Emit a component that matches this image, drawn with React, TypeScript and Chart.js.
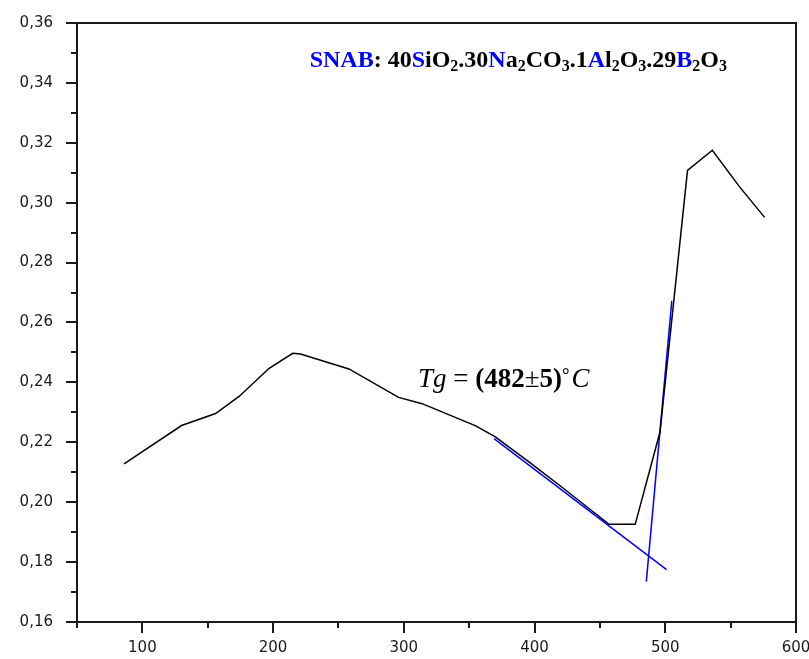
import React, { useEffect, useRef } from 'react';
import { Chart, registerables } from 'chart.js';

Chart.register(...registerables);

// Measured curve: temperature (°C) vs. value
const temperature = [86, 130, 156, 174, 197, 215, 221, 258, 296, 314, 355, 370, 396, 421, 457, 477, 496, 517, 536, 557, 576];
const measured = [0.2128, 0.2256, 0.2296, 0.2353, 0.2447, 0.2497, 0.2495, 0.2445, 0.235, 0.2329, 0.2255, 0.2218, 0.2134, 0.205, 0.1926, 0.1926, 0.2235, 0.3108, 0.3175, 0.3052, 0.2951];

// Tangent lines used to find Tg
const tangentLowX = [369, 501];
const tangentLowY = [0.2212, 0.1775];
const tangentHighX = [485.5, 505];
const tangentHighY = [0.1735, 0.2672];

// Axes
const xMin = 50;
const xMax = 600;
const xMajorTicks = [100, 200, 300, 400, 500, 600];
const xMinorTicks = [50, 150, 250, 350, 450, 550];
const yMin = 0.16;
const yMax = 0.36;
const yMajorTicks = [0.16, 0.18, 0.2, 0.22, 0.24, 0.26, 0.28, 0.3, 0.32, 0.34, 0.36];
const yMinorTicks = [0.17, 0.19, 0.21, 0.23, 0.25, 0.27, 0.29, 0.31, 0.33, 0.35];

const BLUE = '#0000ff';
const BLACK = '#000000';

type Seg = { t: string; c?: string; sub?: boolean; style?: string };

const titleSegs: Seg[] = [
  { t: 'SNAB', c: BLUE },
  { t: ': 40' },
  { t: 'S', c: BLUE },
  { t: 'iO' },
  { t: '2', sub: true },
  { t: '.30' },
  { t: 'N', c: BLUE },
  { t: 'a' },
  { t: '2', sub: true },
  { t: 'CO' },
  { t: '3', sub: true },
  { t: '.1' },
  { t: 'A', c: BLUE },
  { t: 'l' },
  { t: '2', sub: true },
  { t: 'O' },
  { t: '3', sub: true },
  { t: '.29' },
  { t: 'B', c: BLUE },
  { t: '2', sub: true },
  { t: 'O' },
  { t: '3', sub: true },
];

const tgSegs: Seg[] = [
  { t: 'Tg', style: 'italic' },
  { t: ' = ', style: 'normal' },
  { t: '(482', style: 'bold' },
  { t: '±', style: 'normal' },
  { t: '5)°', style: 'bold' },
  { t: 'C', style: 'italic' },
];

const serif = '"Liberation Serif", "Times New Roman", serif';
const sans = '"DejaVu Sans", Verdana, sans-serif';

const framePlugin = {
  id: 'frameAndText',
  afterDraw(chart: any) {
    const { ctx, chartArea: a, scales } = chart;
    const x = scales.x;
    const y = scales.y;
    ctx.save();
    ctx.strokeStyle = '#1a1a1a';
    ctx.lineWidth = 2;
    ctx.strokeRect(a.left, a.top, a.right - a.left, a.bottom - a.top);
    ctx.beginPath();
    xMajorTicks.forEach((v) => {
      const px = Math.round(x.getPixelForValue(v));
      ctx.moveTo(px, a.bottom);
      ctx.lineTo(px, a.bottom + 11);
    });
    xMinorTicks.forEach((v) => {
      const px = Math.round(x.getPixelForValue(v));
      ctx.moveTo(px, a.bottom);
      ctx.lineTo(px, a.bottom + 6);
    });
    yMajorTicks.forEach((v) => {
      const py = Math.round(y.getPixelForValue(v));
      ctx.moveTo(a.left, py);
      ctx.lineTo(a.left - 11, py);
    });
    yMinorTicks.forEach((v) => {
      const py = Math.round(y.getPixelForValue(v));
      ctx.moveTo(a.left, py);
      ctx.lineTo(a.left - 6, py);
    });
    ctx.stroke();

    // Title
    const F = 24;
    const subF = 16;
    ctx.textBaseline = 'alphabetic';
    const measure = (s: Seg) => {
      ctx.font = `bold ${s.sub ? subF : F}px ${serif}`;
      return ctx.measureText(s.t).width;
    };
    const total = titleSegs.reduce((acc, s) => acc + measure(s), 0);
    let cx = 727 - total;
    const base = 67;
    titleSegs.forEach((s) => {
      ctx.font = `bold ${s.sub ? subF : F}px ${serif}`;
      ctx.fillStyle = s.c || BLACK;
      ctx.fillText(s.t, cx, s.sub ? base + 4 : base);
      cx += ctx.measureText(s.t).width;
    });

    // Tg label
    const G = 27;
    let tx = 418;
    const tb = 387;
    tgSegs.forEach((s) => {
      ctx.font = `${s.style === 'normal' ? '' : s.style} ${G}px ${serif}`;
      ctx.fillStyle = BLACK;
      if (s.t === '5)°') {
        ctx.fillText('5)', tx, tb);
        tx += ctx.measureText('5)').width;
        ctx.font = `bold ${G * 0.7}px ${serif}`;
        ctx.fillText('°', tx, tb - 6);
        tx += ctx.measureText('°').width + 2;
      } else {
        ctx.fillText(s.t, tx, tb);
        tx += ctx.measureText(s.t).width;
      }
    });
    ctx.restore();
  },
};

const fmt = (v: number) => v.toFixed(2).replace('.', ',');

const zeroPad = (s: any) => {
  s.paddingLeft = 0;
  s.paddingRight = 0;
  s.paddingTop = 0;
  s.paddingBottom = 0;
};

export default function App() {
  const ref = useRef<HTMLCanvasElement | null>(null);
  useEffect(() => {
    if (!ref.current) return;
    const toPts = (xs: number[], ys: number[]) => xs.map((v, i) => ({ x: v, y: ys[i] }));
    const chart = new Chart(ref.current, {
      type: 'line',
      data: {
        datasets: [
          { data: toPts(temperature, measured), borderColor: BLACK, borderWidth: 1.5, pointRadius: 0, tension: 0 },
          { data: toPts(tangentLowX, tangentLowY), borderColor: BLUE, borderWidth: 1.5, pointRadius: 0 },
          { data: toPts(tangentHighX, tangentHighY), borderColor: BLUE, borderWidth: 1.5, pointRadius: 0 },
        ],
      },
      options: {
        animation: false,
        responsive: false,
        maintainAspectRatio: false,
        layout: { padding: { top: 23, right: 13, left: 0, bottom: 0 } },
        plugins: { legend: { display: false }, tooltip: { enabled: false }, title: { display: false } },
        scales: {
          x: {
            type: 'linear',
            min: xMin,
            max: xMax,
            grid: { display: false },
            border: { display: false },
            afterBuildTicks: (s: any) => { s.ticks = xMajorTicks.map((v) => ({ value: v })); },
            afterFit: (s: any) => { s.height = 37; zeroPad(s); },
            ticks: { color: '#1a1a1a', font: { family: sans, size: 15 }, padding: 9, maxRotation: 0 },
          },
          y: {
            type: 'linear',
            min: yMin,
            max: yMax,
            grid: { display: false },
            border: { display: false },
            afterBuildTicks: (s: any) => { s.ticks = yMajorTicks.map((v) => ({ value: v })); },
            afterFit: (s: any) => { s.width = 77; zeroPad(s); },
            ticks: { color: '#1a1a1a', font: { family: sans, size: 15 }, padding: 16, callback: (v: any) => fmt(Number(v)) },
          },
        },
      },
      plugins: [framePlugin],
    });
    return () => chart.destroy();
  }, []);
  return (
    <div style={{ position: 'fixed', left: 0, top: 0, width: 809, height: 659, background: '#fff' }}>
      <canvas ref={ref} width={809} height={659} style={{ width: 809, height: 659, display: 'block' }} />
    </div>
  );
}
